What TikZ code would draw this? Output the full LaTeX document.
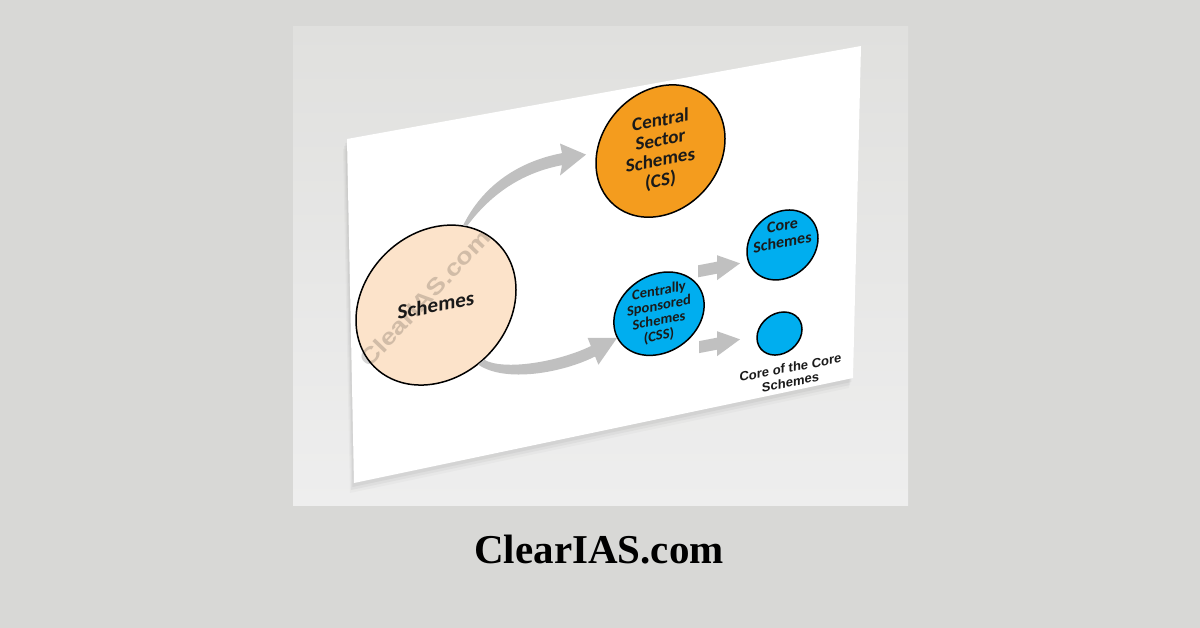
\documentclass[tikz,border=0pt]{standalone}
\usepackage{fontspec}
\newfontfamily\carlitof{Carlito}
\newfontfamily\arialf{Liberation Sans}
\newfontfamily\timesf{Liberation Serif}
\usetikzlibrary{shapes.geometric,arrows.meta}
\definecolor{bgout}{HTML}{D8D8D6}
\definecolor{panTop}{HTML}{E0E0DE}
\definecolor{panBot}{HTML}{EEEEEE}
\definecolor{peach}{HTML}{FCE3CA}
\definecolor{orng}{HTML}{F49C1E}
\definecolor{cyanb}{HTML}{00AEEF}
\definecolor{agrey}{HTML}{C0C0C0}
\definecolor{txt}{HTML}{1A1A1A}
\definecolor{wmgrey}{HTML}{D4D4D4}
\tikzset{
  circ/.style={ellipse, draw=black, line width=1.5pt, inner sep=0pt, align=center, text=txt},
  schemefont/.style={font=\carlitof\bfseries\fontsize{21}{22}\selectfont},
  csfont/.style={font=\carlitof\bfseries\fontsize{19}{20}\selectfont},
  cssfont/.style={font=\carlitof\bfseries\fontsize{14.5}{15}\selectfont},
  corefont/.style={align=center, text=txt, font=\carlitof\bfseries\fontsize{16}{17}\selectfont},
  smallfont/.style={align=center, text=txt, font=\arialf\bfseries\fontsize{13}{14.5}\selectfont},
  wmfont/.style={text=wmgrey, font=\arialf\bfseries\fontsize{25}{25}\selectfont},
  grarrow/.style={fill=agrey, draw=none}
}
\begin{document}
\begin{tikzpicture}[x=1pt,y=1pt]
\useasboundingbox (0,0) rectangle (1200,-628);
\fill[bgout] (0,0) rectangle (1200,-628);
\shade[top color=panTop, bottom color=panBot] (293,-27) rectangle (908,-505);
% soft shadow of the sheet
\foreach \d/\o in {10/0.025,7/0.035,4/0.045}{
  \fill[black, opacity=\o, xshift=-0.4*\d, yshift=-\d] (347,-139) -- (861,-46) -- (853,-378) -- (354,-483) -- cycle;
}
% the sheet
\fill[white] (347,-139) -- (861,-46) -- (853,-378) -- (354,-483) -- cycle;

\begin{scope}[cm={1,0.19,0,1,(347pt,-139pt)}, transform shape]
  % circles
  \node[circ, fill=peach, schemefont, minimum width=160, minimum height=157] (schemes) at (89,-183) {Schemes};
  \node[circ, fill=orng, csfont, minimum width=129, minimum height=130] (cs) at (313.5,-71.6) {Central\\Sector\\Schemes\\(CS)};
  \node[circ, fill=cyanb, cssfont, minimum width=82, minimum height=81.6] (css) at (312,-234) {Centrally\\Sponsored\\Schemes\\(CSS)};
  \node[circ, fill=cyanb, minimum width=71, minimum height=68.6,
        label={[corefont, yshift=11pt]center:{Core\\Schemes}}] (core) at (435.5,-188.7) {};
  \node[circ, fill=cyanb, minimum width=45, minimum height=42.2] (corecore) at (432.5,-276.7) {};
  \node[smallfont] (cctxt) at (443.5,-320) {Core of the Core\\Schemes};

  % watermark
  \begin{scope}[blend mode=multiply]
    \node[wmfont, rotate=41] (wm) at (78,-174) {ClearIAS.com};
  \end{scope}

  % big curved arrows
  \fill[grarrow] (schemes.70) .. controls (136,-72) and (172,-55) .. (215,-55)
     -- (213,-45) -- (239,-61) -- (213,-77) -- (215,-67)
     .. controls (178,-67) and (146,-80) .. (schemes.67) -- cycle;
  \fill[grarrow] (schemes.-53) .. controls (157,-262) and (212,-263) .. (243.9,-253.4)
     -- (240.6,-244.5) -- (270,-250.3) -- (251.4,-273.5) -- (248.1,-264.6)
     .. controls (215,-275) and (158,-274) .. (schemes.-58) -- cycle;

  % small block arrows
  \coordinate (a1s) at (351,-199);
  \coordinate (a1e) at (393,-199);
  \coordinate (a2s) at (352,-275);
  \coordinate (a2e) at (393,-275);
  \fill[grarrow] (a1s) ++(0,6) -- ++(19,0) -- ++(0,6.5) -- (a1e) -- ++(-23,-12.5) -- ++(0,6.5) -- ++(-19,0) -- cycle;
  \fill[grarrow] (a2s) ++(0,6) -- ++(18,0) -- ++(0,6.5) -- (a2e) -- ++(-23,-12.5) -- ++(0,6.5) -- ++(-18,0) -- cycle;
\end{scope}

\node[anchor=base, text=black, font=\timesf\bfseries\fontsize{41}{41}\selectfont] (brand) at (599,-563) {ClearIAS.com};
\end{tikzpicture}
\end{document}
